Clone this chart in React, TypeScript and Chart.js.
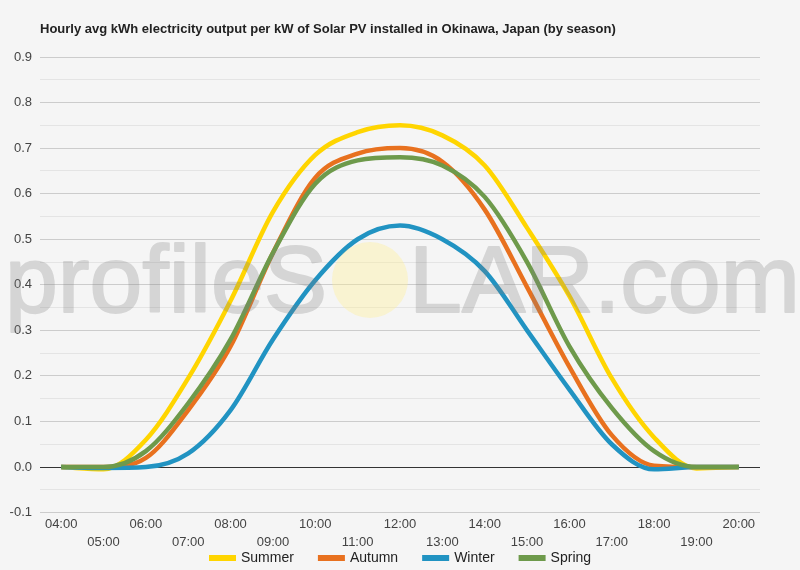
import React, { useEffect, useRef } from "react";
import { Chart, registerables } from "chart.js";

Chart.register(...registerables);

const TITLE =
  "Hourly avg kWh electricity output per kW of Solar PV installed in Okinawa, Japan (by season)";

const hours = [
  "04:00", "05:00", "06:00", "07:00", "08:00", "09:00", "10:00", "11:00", "12:00",
  "13:00", "14:00", "15:00", "16:00", "17:00", "18:00", "19:00", "20:00",
];

const summer = [0, -0.005, 0.06, 0.195, 0.365, 0.56, 0.685, 0.735, 0.75, 0.728, 0.662, 0.525, 0.375, 0.195, 0.065, -0.003, 0];
const autumn = [0, 0, 0.02, 0.125, 0.265, 0.47, 0.635, 0.688, 0.7, 0.67, 0.565, 0.395, 0.22, 0.07, 0.003, 0, 0];
const winter = [0, -0.002, 0, 0.03, 0.125, 0.28, 0.41, 0.5, 0.53, 0.5, 0.43, 0.3, 0.17, 0.05, -0.005, 0, 0];
const spring = [0, 0, 0.035, 0.14, 0.28, 0.47, 0.622, 0.673, 0.68, 0.662, 0.593, 0.45, 0.265, 0.13, 0.035, 0, 0];

const seriesNames = ["Summer", "Autumn", "Winter", "Spring"];
const seriesColors = ["#FFD500", "#E8711F", "#2193C2", "#6E9A4B"];

const FONT = "'Liberation Sans', Arial, sans-serif";

// Faint site mark laid over the plot
function drawSiteMark(chart: Chart) {
  const ctx = chart.ctx;
  const off = document.createElement("canvas");
  off.width = chart.width;
  off.height = chart.height;
  const o = off.getContext("2d")!;
  o.font = `95px ${FONT}`;
  o.fillStyle = "#808080";
  o.strokeStyle = "#808080";
  o.lineWidth = 2;
  o.lineJoin = "round";
  const left = "profileS";
  o.fillText(left, 5, 312);
  o.strokeText(left, 5, 312);
  const lw = o.measureText(left).width;
  o.fillText("LAR.com", 5 + lw + 82, 312);
  o.strokeText("LAR.com", 5 + lw + 82, 312);
  ctx.save();
  ctx.globalAlpha = 0.27;
  ctx.drawImage(off, 0, 0);
  ctx.globalAlpha = 1;
  ctx.beginPath();
  ctx.arc(370, 280, 38, 0, Math.PI * 2);
  ctx.fillStyle = "rgba(255,238,150,0.38)";
  ctx.fill();
  ctx.restore();
}

// Legend row beneath the axis: short thick swatch then series name
function drawLegend(chart: Chart) {
  const ctx = chart.ctx;
  ctx.save();
  ctx.font = `14px ${FONT}`;
  const boxW = 27;
  const gap = 5;
  const pad = 24;
  const items = chart.data.datasets.map((d: any) => ({
    label: d.label as string,
    color: d.borderColor as string,
    w: ctx.measureText(d.label).width,
  }));
  const total = items.reduce((s, it) => s + boxW + gap + it.w, 0) + pad * (items.length - 1);
  let x = Math.round(chart.width / 2 - total / 2);
  const cy = 558;
  ctx.textBaseline = "middle";
  for (const it of items) {
    ctx.fillStyle = it.color;
    ctx.fillRect(x, cy - 3, boxW, 6);
    ctx.fillStyle = "#222";
    ctx.fillText(it.label, x + boxW + gap, cy);
    x += boxW + gap + it.w + pad;
  }
  ctx.restore();
}

const overlayPlugin = {
  id: "overlay",
  afterDraw(chart: Chart) {
    drawSiteMark(chart);
    drawLegend(chart);
    const ctx = chart.ctx;
    ctx.save();
    ctx.font = `bold 13px ${FONT}`;
    ctx.fillStyle = "#222";
    ctx.textBaseline = "alphabetic";
    ctx.fillText(TITLE, 40, 33);
    ctx.restore();
  },
};

const bgPlugin = {
  id: "bg",
  beforeDraw(chart: Chart) {
    const ctx = chart.ctx;
    ctx.save();
    ctx.fillStyle = "#f5f5f5";
    ctx.fillRect(0, 0, chart.width, chart.height);
    ctx.restore();
  },
};

function isMinor(v: number) {
  return Math.round(v * 100) % 10 !== 0;
}

export default function App() {
  const ref = useRef<HTMLCanvasElement | null>(null);

  useEffect(() => {
    if (!ref.current) return;
    const values = [summer, autumn, winter, spring];
    const chart = new Chart(ref.current, {
      type: "line",
      data: {
        labels: hours,
        datasets: seriesNames.map((name, i) => ({
          label: name,
          data: values[i],
          borderColor: seriesColors[i],
          backgroundColor: seriesColors[i],
          borderWidth: 4.5,
          pointRadius: 0,
          pointHoverRadius: 0,
          cubicInterpolationMode: "monotone" as const,
          fill: false,
          order: 3 - i,
        })),
      },
      options: {
        animation: false,
        responsive: false,
        layout: { padding: { top: 57, right: 40, left: 0, bottom: 15 } },
        plugins: {
          title: { display: false },
          tooltip: { enabled: false },
          legend: { display: false },
        },
        scales: {
          x: {
            offset: true,
            grid: { display: false, drawTicks: false },
            border: { display: false },
            ticks: {
              autoSkip: false,
              maxRotation: 0,
              minRotation: 0,
              padding: 3,
              color: "#444",
              font: { family: FONT, size: 13, lineHeight: 1.4 },
              callback: (_v: any, i: number) => (i % 2 === 0 ? [hours[i]] : ["", hours[i]]),
            },
          },
          y: {
            min: -0.1,
            max: 0.9,
            border: { display: false },
            afterFit: (s: any) => {
              s.width = 40;
            },
            grid: {
              drawTicks: false,
              lineWidth: 1,
              color: (c: any) => {
                const v = c.tick.value;
                if (Math.abs(v) < 1e-9) return "#333";
                return isMinor(v) ? "#e4e4e4" : "#cccccc";
              },
            },
            ticks: {
              stepSize: 0.05,
              padding: 8,
              color: "#444",
              font: { family: FONT, size: 13 },
              callback: (v: any) => (isMinor(Number(v)) ? "" : Number(v).toFixed(1)),
            },
          },
        },
      },
      plugins: [bgPlugin, overlayPlugin],
    });
    return () => chart.destroy();
  }, []);

  return (
    <div style={{ position: "absolute", left: 0, top: 0, width: 800, height: 570, background: "#f5f5f5" }}>
      <canvas ref={ref} width={800} height={570} />
    </div>
  );
}
